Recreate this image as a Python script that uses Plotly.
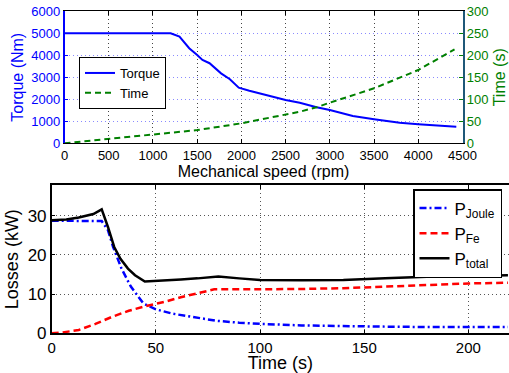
import plotly.graph_objects as go

# ---- Top chart: torque & time vs mechanical speed ----
rpm_torque = [0, 1200, 1300, 1410, 1500, 1560, 1640, 1770, 1870, 1970, 2090, 2320, 2500,
              2660, 2850, 3000, 3260, 3500, 3790, 4000, 4240, 4430]
torque_nm = [5000, 5000, 4850, 4320, 4010, 3790, 3640, 3180, 2910, 2530, 2390, 2150, 1970,
             1845, 1640, 1515, 1240, 1090, 935, 865, 785, 755]

rpm_time = [0, 500, 1000, 1500, 2000, 2500, 2660, 2850, 3000, 3500, 4000, 4410]
time_s = [0, 10, 19.5, 30, 45.4, 64.3, 71.8, 81.8, 92.3, 125, 166.6, 213.6]

speed_ticks = [0, 500, 1000, 1500, 2000, 2500, 3000, 3500, 4000, 4500]
torque_ticks = [0, 1000, 2000, 3000, 4000, 5000, 6000]
time_ticks = [0, 50, 100, 150, 200, 250, 300]

# ---- Bottom chart: losses vs time ----
t_joule = [0, 10, 20, 24, 27, 29.5, 33.5, 38, 44, 50, 58, 65, 70, 79, 90, 100, 120, 140,
           160, 180, 200, 219]
p_joule = [28.7, 28.7, 28.7, 28.6, 26.3, 22.0, 16.5, 11.9, 7.6, 6.1, 5.0, 4.4, 4.0, 3.2,
           2.7, 2.4, 2.0, 1.8, 1.7, 1.6, 1.6, 1.6]

t_fe = [0, 5, 13, 21, 29, 37, 45, 54, 62, 70, 78, 90, 100, 120, 140, 160, 180, 200, 219]
p_fe = [0, 0.2, 0.85, 2.4, 4.2, 5.75, 6.9, 8.0, 9.2, 10.2, 11.2, 11.2, 11.2, 11.3, 11.5,
        11.9, 12.4, 12.7, 12.9]

t_total = [0, 7, 13, 20, 24, 27, 30, 33, 36.6, 40, 44.7, 50, 62, 70, 80, 90, 100, 120,
           140, 160, 180, 200, 219]
p_total = [28.8, 29.0, 29.5, 30.4, 31.6, 27.1, 22.0, 19.0, 16.5, 14.8, 13.2, 13.3, 13.7,
           14.0, 14.5, 14.0, 13.6, 13.5, 13.6, 14.0, 14.4, 14.6, 14.8]

time_ticks_b = [0, 50, 100, 150, 200]
loss_ticks = [0, 10, 20, 30]

FONT = "Liberation Sans, Arial, Helvetica, sans-serif"
BLUE = "#0000ff"
GREEN = "#008000"

fig = go.Figure()

fig.add_trace(go.Scatter(x=rpm_torque, y=torque_nm, name="Torque", mode="lines",
                         line=dict(color=BLUE, width=2), xaxis="x", yaxis="y",
                         legend="legend"))
fig.add_trace(go.Scatter(x=rpm_time, y=time_s, name="Time", mode="lines",
                         line=dict(color=GREEN, width=2, dash="6px,4px"),
                         xaxis="x", yaxis="y2", legend="legend"))

fig.add_trace(go.Scatter(x=t_joule, y=p_joule, name="P<sub>Joule</sub>", mode="lines",
                         line=dict(color=BLUE, width=2.5, dash="7px,3px,2px,3px"),
                         xaxis="x3", yaxis="y3", legend="legend2"))
fig.add_trace(go.Scatter(x=t_fe, y=p_fe, name="P<sub>Fe</sub>", mode="lines",
                         line=dict(color="#ff0000", width=2.5, dash="7px,4px"),
                         xaxis="x3", yaxis="y3", legend="legend2"))
fig.add_trace(go.Scatter(x=t_total, y=p_total, name="P<sub>total</sub>", mode="lines",
                         line=dict(color="#000000", width=2.5),
                         xaxis="x3", yaxis="y3", legend="legend2"))

W, H = 509, 373

def px_x(p):
    return p / W

def px_y(p):
    return 1 - p / H

fig.update_layout(
    width=W, height=H,
    margin=dict(l=0, r=0, t=0, b=0),
    paper_bgcolor="white", plot_bgcolor="white",
    font=dict(family=FONT, size=13, color="black"),
    xaxis=dict(domain=[px_x(64.5), px_x(462.5)], range=[0, 4500], tickvals=speed_ticks,
               anchor="y", showline=True, linecolor="black", linewidth=1, mirror="ticks",
               ticks="inside", ticklen=4, tickcolor="black",
               showgrid=True, gridcolor="#444444", griddash="1px,3px", gridwidth=1,
               zeroline=False, automargin=False,
               tickfont=dict(size=13, color="black"),
               title=dict(text="Mechanical speed (rpm)", font=dict(size=16), standoff=2)),
    yaxis=dict(domain=[px_y(143.3), px_y(11.3)], range=[0, 6000], tickvals=torque_ticks,
               anchor="x", showline=True, linecolor=BLUE, linewidth=1.5,
               ticks="inside", ticklen=4, tickcolor=BLUE,
               showgrid=True, gridcolor="#8a8aff", griddash="1px,3px", gridwidth=1,
               zeroline=False, automargin=False,
               tickfont=dict(size=13, color=BLUE),
               title=dict(text="Torque (Nm)", font=dict(size=16, color=BLUE), standoff=4)),
    yaxis2=dict(range=[0, 300], tickvals=time_ticks, overlaying="y", side="right",
                anchor="x", showline=True, linecolor="#1f5878", linewidth=1.5,
                ticks="inside", ticklen=4, tickcolor=GREEN, showgrid=False,
                zeroline=False, automargin=False,
                tickfont=dict(size=13, color=GREEN),
                title=dict(text="Time (s)", font=dict(size=16, color=GREEN), standoff=6)),
    xaxis3=dict(domain=[px_x(51.7), 1.0], range=[0, 219.5], tickvals=time_ticks_b,
                anchor="y3", showline=True, linecolor="black", linewidth=1.5, mirror="ticks",
                ticks="inside", ticklen=4, tickcolor="black",
                showgrid=True, gridcolor="#555555", griddash="1px,3px", gridwidth=1,
                zeroline=False, automargin=False,
                tickfont=dict(size=15, color="black"),
                title=dict(text="Time (s)", font=dict(size=18), standoff=4)),
    yaxis3=dict(domain=[px_y(333.3), px_y(185)], range=[0, 37.8], tickvals=loss_ticks,
                anchor="x3", showline=True, linecolor="black", linewidth=1.5,
                ticks="inside", ticklen=4, tickcolor="black",
                showgrid=True, gridcolor="#555555", griddash="1px,3px", gridwidth=1,
                zeroline=False, automargin=False,
                tickfont=dict(size=17, color="black"),
                title=dict(text="Losses (kW)", font=dict(size=18), standoff=4)),
    legend=dict(x=px_x(79), y=px_y(57), xanchor="left", yanchor="top",
                bgcolor="white", bordercolor="black", borderwidth=1,
                font=dict(size=13), tracegroupgap=0, itemwidth=30),
    legend2=dict(x=px_x(502), y=px_y(189), xanchor="right", yanchor="top",
                 bgcolor="white", bordercolor="black", borderwidth=1.5,
                 font=dict(size=17), itemwidth=30),
    showlegend=True,
)

fig.write_html("out.html", config={"displayModeBar": False},
               post_script="document.body.style.margin='0';document.body.style.overflow='hidden';")
